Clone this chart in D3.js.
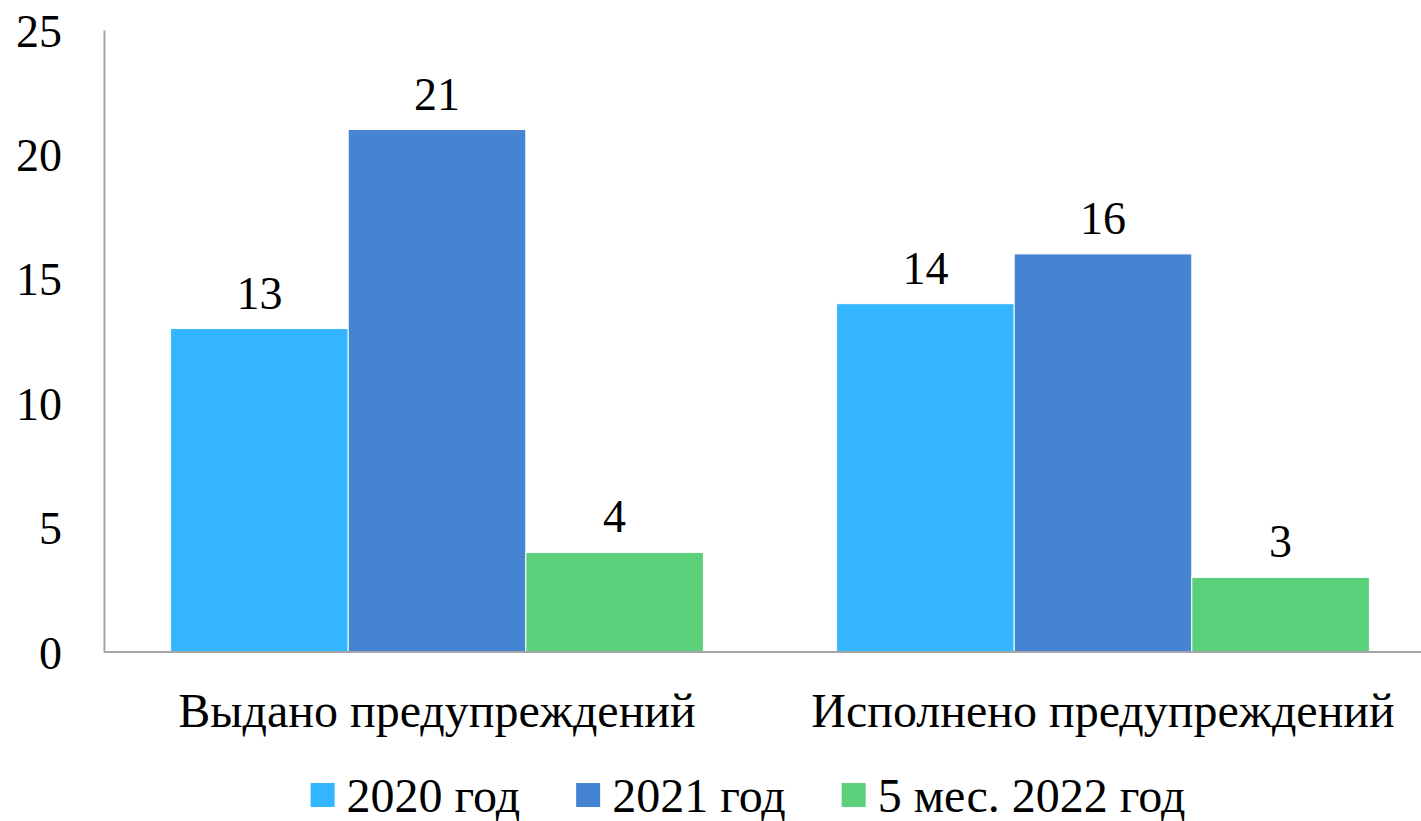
<!DOCTYPE html>
<html>
<head>
<meta charset="utf-8">
<script src="https://cdn.jsdelivr.net/npm/d3@7"></script>
<style>
  body { margin: 0; background: #fff; }
</style>
</head>
<body>
<svg id="chart" width="1421" height="821"></svg>
<script>
// data
const categories = ["Выдано предупреждений", "Исполнено предупреждений"];
const seriesNames = ["2020 год", "2021 год", "5 мес. 2022 год"];
const seriesColors = ["#33b5ff", "#4584d3", "#5bd07a"];
const values2020 = [13, 14];
const values2021 = [21, 16];
const values2022 = [4, 3];
const yTicks = [0, 5, 10, 15, 20, 25];

const seriesValues = [values2020, values2021, values2022];
const numSize = 46;
const labelSize = 48;
const serif = "'Liberation Serif', 'Times New Roman', 'DejaVu Serif', serif";

const svg = d3.select("#chart").style("font-family", serif);

// scales
const y = d3.scaleLinear().domain([0, 25]).range([652, 30]);
const x0 = d3.scaleBand().domain(categories).range([104, 1436])
  .paddingInner(0.2).paddingOuter(0.1);
const x1 = d3.scaleBand().domain(seriesNames).range([0, x0.bandwidth()]);

// bars
const groups = svg.append("g").selectAll("g")
  .data(categories)
  .join("g")
    .attr("transform", d => `translate(${x0(d)},0)`);

groups.selectAll("rect")
  .data((c, ci) => seriesNames.map((s, si) => ({ s, si, v: seriesValues[si][ci] })))
  .join("rect")
    .attr("x", d => x1(d.s))
    .attr("y", d => y(d.v))
    .attr("width", x1.bandwidth())
    .attr("height", d => y(0) - y(d.v))
    .attr("fill", d => seriesColors[d.si])
    .attr("stroke", "#fff")
    .attr("stroke-width", 1);

// value labels
groups.selectAll("text")
  .data((c, ci) => seriesNames.map((s, si) => ({ s, si, v: seriesValues[si][ci] })))
  .join("text")
    .attr("x", d => x1(d.s) + x1.bandwidth() / 2)
    .attr("y", d => y(d.v) - 20)
    .attr("text-anchor", "middle")
    .style("font-size", numSize + "px")
    .text(d => d.v);

// y axis
const yAxis = svg.append("g")
  .attr("transform", "translate(104,0)")
  .call(d3.axisLeft(y).tickValues(yTicks).tickSize(0).tickPadding(42));
yAxis.attr("font-family", null).attr("font-size", null);
yAxis.select(".domain").attr("stroke", "#a6a6a6").attr("stroke-width", 2);
yAxis.selectAll("text")
  .style("font-size", numSize + "px")
  .attr("fill", "#000")
  .attr("dy", "0.35em");

// x axis
const xAxis = svg.append("g")
  .attr("transform", "translate(0,652)")
  .call(d3.axisBottom(x0).tickSize(0).tickPadding(0));
xAxis.attr("font-family", null).attr("font-size", null);
xAxis.select(".domain").attr("stroke", "#a6a6a6").attr("stroke-width", 2)
  .attr("d", "M104,0H1421");
xAxis.selectAll("text")
  .style("font-size", labelSize + "px")
  .attr("fill", "#000")
  .attr("dy", null)
  .attr("y", 75);

// legend, centred like the reference
const legend = svg.append("g");
const items = seriesNames.map((name, i) => {
  const rect = legend.append("rect")
    .attr("y", 783)
    .attr("width", 24).attr("height", 24)
    .attr("fill", seriesColors[i]);
  const text = legend.append("text")
    .attr("y", 812)
    .style("font-size", labelSize + "px")
    .text(name);
  return { rect, text, w: text.node().getComputedTextLength() };
});
const total = d3.sum(items, d => 36 + d.w) + 56 * (items.length - 1);
let lx = 748 - total / 2;
items.forEach(d => {
  d.rect.attr("x", lx);
  d.text.attr("x", lx + 36);
  lx += 36 + d.w + 56;
});
</script>
</body>
</html>
